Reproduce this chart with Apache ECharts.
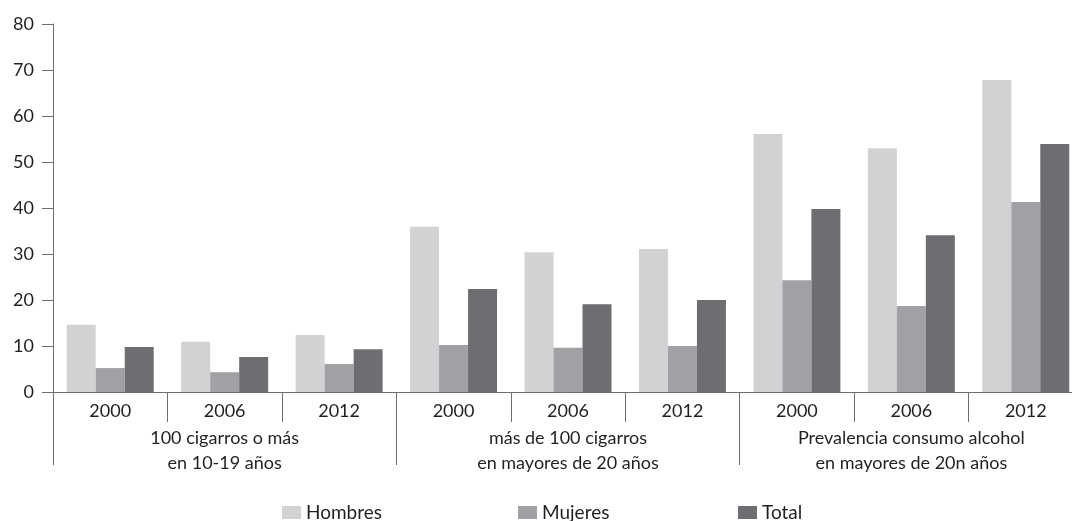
<!DOCTYPE html>
<html>
<head>
<meta charset="utf-8">
<script src="https://cdn.jsdelivr.net/npm/echarts@6/dist/echarts.min.js"></script>
<style>
html,body{margin:0;padding:0;background:#fff;}
#chart{width:1072px;height:521px;}
</style>
</head>
<body>
<div id="chart"></div>
<script>
var years = ['2000','2006','2012','2000','2006','2012','2000','2006','2012'];
var groups = ['100 cigarros o más\nen 10-19 años','más de 100 cigarros\nen mayores de 20 años','Prevalencia consumo alcohol\nen mayores de 20n años'];
var seriesNames = ['Hombres','Mujeres','Total'];
var hombres = [14.6, 10.9, 12.4, 35.9, 30.4, 31.1, 56.1, 53.0, 67.8];
var mujeres = [5.2, 4.3, 6.1, 10.2, 9.6, 10.0, 24.3, 18.7, 41.3];
var total = [9.8, 7.6, 9.3, 22.4, 19.1, 20.0, 39.8, 34.1, 53.9];
var yTicks = [0, 10, 20, 30, 40, 50, 60, 70, 80];

var colors = ['#d1d2d4', '#a0a1a5', '#6d6e72'];
var font = 'Lato';
var txt = '#231f20';
var lineCol = '#6d6e71';

var chart = echarts.init(document.getElementById('chart'));
var gridBox = {left: 53, top: 24, width: 1030, bottom: 129, outerBoundsMode: 'none', containLabel: false};
function legend(name, left) {
  return {
    data: [name], left: left, top: 503, padding: 0, icon: 'rect',
    itemWidth: 19, itemHeight: 13, selectedMode: false,
    textStyle: {fontFamily: font, fontSize: 19, color: txt}
  };
}
chart.setOption({
  animation: false,
  color: colors,
  grid: [Object.assign({}, gridBox), Object.assign({}, gridBox)],
  legend: [legend('Hombres', 282), legend('Mujeres', 518), legend('Total', 738)],
  xAxis: [{
    type: 'category', gridIndex: 0, data: years,
    axisLine: {lineStyle: {color: lineCol, width: 1}},
    axisTick: {show: true, interval: 0, length: 30, lineStyle: {color: lineCol}},
    axisLabel: {interval: 0, margin: 10, fontFamily: font, fontSize: 18, color: txt}
  }, {
    type: 'category', gridIndex: 1, data: groups,
    axisLine: {show: false},
    axisTick: {show: true, interval: 0, length: 73, lineStyle: {color: lineCol}},
    axisLabel: {interval: 0, margin: 34, fontFamily: font, fontSize: 18, lineHeight: 25, color: txt}
  }],
  yAxis: [{
    type: 'value', gridIndex: 0, min: yTicks[0], max: yTicks[yTicks.length - 1], interval: 10,
    axisLine: {show: true, lineStyle: {color: lineCol, width: 1}},
    axisTick: {show: true, length: 11, lineStyle: {color: lineCol}},
    splitLine: {show: false},
    axisLabel: {margin: 19, fontFamily: font, fontSize: 18, color: txt}
  }, {
    type: 'value', gridIndex: 1, min: 0, max: 80, show: false
  }],
  series: [
    {name: seriesNames[0], type: 'bar', data: hombres, barWidth: 29, barGap: '0%', xAxisIndex: 0, yAxisIndex: 0},
    {name: seriesNames[1], type: 'bar', data: mujeres, barWidth: 29, barGap: '0%', xAxisIndex: 0, yAxisIndex: 0},
    {name: seriesNames[2], type: 'bar', data: total, barWidth: 29, barGap: '0%', xAxisIndex: 0, yAxisIndex: 0}
  ]
});
</script>
</body>
</html>
